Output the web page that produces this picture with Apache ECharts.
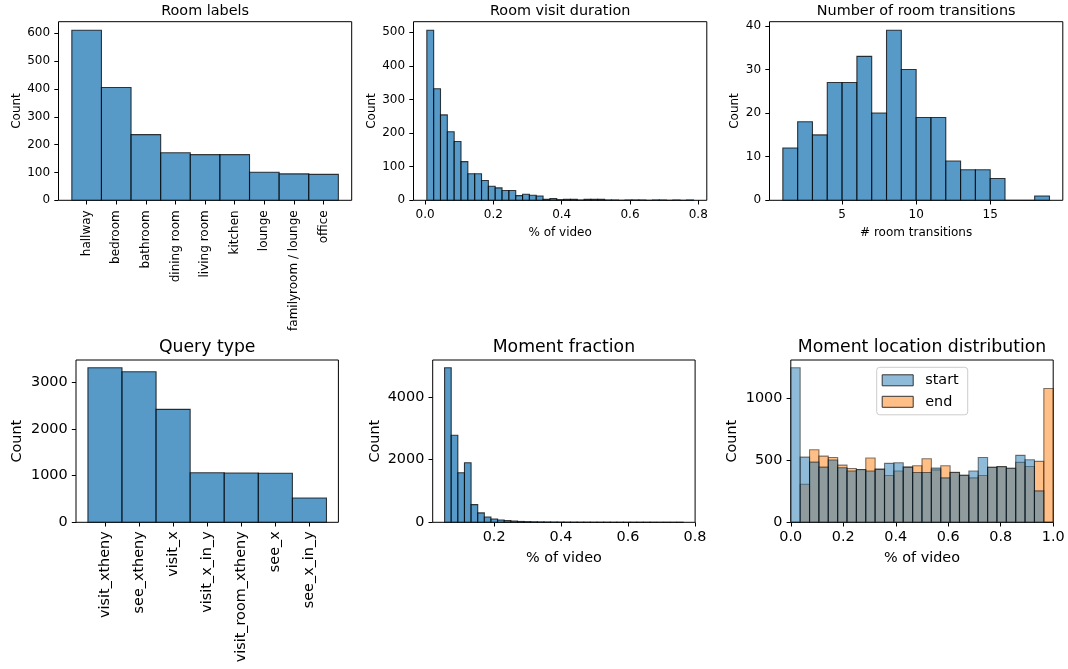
<!DOCTYPE html>
<html><head><meta charset="utf-8">
<script src="https://cdn.jsdelivr.net/npm/echarts@6/dist/echarts.min.js"></script>
<style>html,body{margin:0;padding:0;background:#fff}#c{width:1068px;height:669px}</style>
</head><body><div id="c"></div>
<script>
// ---------------- DATA ----------------
const roomLabels = ['hallway','bedroom','bathroom','dining room','living room','kitchen','lounge','familyroom / lounge','office'];
const roomCounts = [611,405,236,171,164,164,101,95,93];

const visitBinStart = 0.005;
const visitBinWidth = 0.02003;
const visitCounts = [506,332,254,204,175,115,79,79,59,42,37,29,29,14,18,15,13,3,5,2,3,3,1,3,3,3,1,1,0,1,1,1,0,1,1,0,1,0,1];

const transBinStart = 1;
const transBinWidth = 1;
const transCounts = [12,18,15,27,27,33,20,39,30,19,19,9,7,7,5,0,0,1];

const queryLabels = ['visit_xtheny','see_xtheny','visit_x','visit_x_in_y','visit_room_xtheny','see_x','see_x_in_y'];
const queryCounts = [3313,3227,2421,1063,1058,1050,521];

const fracBinStart = 0.052;
const fracBinWidth = 0.0198;
const fracCounts = [4928,2773,1579,1899,565,299,171,107,75,53,43,27,20,15,12,10,8,6,5,4,3,3,2,2,2,1,1,1,1,1,1,1,0,1,0,1];

const locBinStart = 0;
const locBinWidth = 1/28;
const locStart = [1249,527,486,446,503,441,414,427,414,430,476,481,446,403,403,438,359,402,381,414,524,446,449,437,541,505,254,0];
const locEnd   = [0,308,586,535,524,462,435,425,519,428,378,414,446,457,514,424,457,405,378,359,378,443,451,437,484,451,492,1081];

const ticks01 = [0,0.2,0.4,0.6,0.8];
const ticks0110 = [0,0.2,0.4,0.6,0.8,1.0];

// ---------------- HELPERS ----------------
const FONT = 'DejaVu Sans';
const FS_T = 12, FS_B = 14.4;
const TT_T = 14.4, TT_B = 17.28;

function histData(start, width, counts){ return counts.map((c,i)=>[start+i*width, start+(i+1)*width, c]); }
function catData(counts){ return counts.map((c,i)=>[i-0.5, i+0.5, c]); }

function renderer(style){
  return function(params, api){
    const a = api.coord([api.value(0), api.value(2)]);
    const b = api.coord([api.value(1), 0]);
    return {type:'rect', shape:{x:a[0], y:a[1], width:b[0]-a[0], height:b[1]-a[1]}, style:Object.assign({}, style)};
  };
}
const soloStyle = {fill:'#1f77b4', stroke:'#000', lineWidth:1.1, opacity:0.75};

function histSeries(idx, data, style, name){
  return {type:'custom', name:name||('s'+idx), coordinateSystem:'cartesian2d', xAxisIndex:idx, yAxisIndex:idx,
    renderItem:renderer(style), data:data, encode:{x:[0,1], y:2}, clip:false, silent:true,
    itemStyle:{color:style.fill}};
}

function xAx(gi, min, max, ticks, fmt, fs, name, gap, rotate, margin){
  return {type:'value', gridIndex:gi, min:min, max:max,
    axisLine:{show:false, onZero:false}, splitLine:{show:false},
    axisTick:{show:true, length:4.2, customValues:ticks, lineStyle:{color:'#000', width:1}},
    axisLabel:{customValues:ticks, formatter:fmt, fontSize:fs, color:'#000', fontFamily:FONT, margin:margin||8.4, rotate:rotate||0},
    name:name||'', nameLocation:'middle', nameGap:gap||0,
    nameTextStyle:{fontSize:fs, color:'#000', fontFamily:FONT}};
}
function yAx(gi, max, ticks, fs, gap){
  return {type:'value', gridIndex:gi, min:0, max:max,
    axisLine:{show:false, onZero:false}, splitLine:{show:false},
    axisTick:{show:true, length:4.2, customValues:ticks, lineStyle:{color:'#000', width:1}},
    axisLabel:{customValues:ticks, formatter:v=>String(Math.round(v)), fontSize:fs, color:'#000', fontFamily:FONT, margin:8.4},
    name:'Count', nameLocation:'middle', nameGap:gap, nameRotate:90,
    nameTextStyle:{fontSize:fs, color:'#000', fontFamily:FONT}};
}
function grid(l,t,w,h){
  return {left:l, top:t, width:w, height:h, show:true, borderColor:'#000', borderWidth:1,
    backgroundColor:'transparent', containLabel:false, outerBoundsMode:'none'};
}
function title(text, x, y, fs){
  return {text:text, left:x, top:y, textAlign:'center', textVerticalAlign:'middle', padding:0,
    textStyle:{fontSize:fs, fontWeight:'normal', color:'#000', fontFamily:FONT}};
}
const f1 = v => v.toFixed(1);
const fi = v => String(Math.round(v));

const G = [
  [58.5, 21.7, 293.2, 178.6],
  [413.5, 21.7, 293.3, 178.6],
  [769.5, 21.7, 293.3, 178.6],
  [76, 360, 262.4, 162.3],
  [432.7, 360, 262.4, 162.3],
  [790.8, 360, 262.4, 162.3]
];

const option = {
  animation:false,
  backgroundColor:'#fff',
  title:[
    title('Room labels', G[0][0]+G[0][2]/2, 10.8, TT_T),
    title('Room visit duration', G[1][0]+G[1][2]/2, 10.8, TT_T),
    title('Number of room transitions', G[2][0]+G[2][2]/2, 10.8, TT_T),
    title('Query type', G[3][0]+G[3][2]/2, 347.3, TT_B),
    title('Moment fraction', G[4][0]+G[4][2]/2, 347.3, TT_B),
    title('Moment location distribution', G[5][0]+G[5][2]/2, 347.3, TT_B)
  ],
  grid: G.map(g=>grid(g[0],g[1],g[2],g[3])),
  xAxis:[
    xAx(0, -0.95, 8.95, roomLabels.map((_,i)=>i), v=>roomLabels[Math.round(v)], FS_T, '', 0, 90, 10),
    xAx(1, -0.034, 0.825, ticks01, f1, FS_T, '% of video', 27),
    xAx(2, 0.1, 19.9, [5,10,15], fi, FS_T, '# room transitions', 27),
    xAx(3, -0.85, 6.85, queryLabels.map((_,i)=>i), v=>queryLabels[Math.round(v)], FS_B, '', 0, 90, 9),
    xAx(4, 0.0165, 0.8005, [0.2,0.4,0.6,0.8], f1, FS_B, '% of video', 28.8),
    xAx(5, 0, 1, ticks0110, f1, FS_B, '% of video', 28.8)
  ],
  yAxis:[
    yAx(0, 641.55, [0,100,200,300,400,500,600], FS_T, 36),
    yAx(1, 531.3, [0,100,200,300,400,500], FS_T, 36),
    yAx(2, 40.95, [0,10,20,30,40], FS_T, 28.3),
    yAx(3, 3478.65, [0,1000,2000,3000], FS_B, 52),
    yAx(4, 5174.4, [0,2000,4000], FS_B, 50.5),
    yAx(5, 1311.45, [0,500,1000], FS_B, 52)
  ],
  legend:{
    orient:'vertical', left:876.7, top:367.3, padding:[6,9,6,5],
    itemWidth:31, itemHeight:11, itemGap:7.5,
    borderColor:'#cccccc', borderWidth:1, borderRadius:3, backgroundColor:'rgba(255,255,255,0.8)',
    textStyle:{fontSize:FS_B, color:'#000', fontFamily:FONT, padding:[0,0,0,7]},
    selectedMode:false,
    data:[
      {name:'start', icon:'rect', itemStyle:{color:'#8fbbd9', borderColor:'#333', borderWidth:1}},
      {name:'end', icon:'rect', itemStyle:{color:'#ffbf86', borderColor:'#333', borderWidth:1}}
    ]
  },
  series:[
    histSeries(0, catData(roomCounts), soloStyle),
    histSeries(1, histData(visitBinStart, visitBinWidth, visitCounts), soloStyle),
    histSeries(2, histData(transBinStart, transBinWidth, transCounts), soloStyle),
    histSeries(3, catData(queryCounts), soloStyle),
    histSeries(4, histData(fracBinStart, fracBinWidth, fracCounts), soloStyle),
    histSeries(5, histData(locBinStart, locBinWidth, locEnd), {fill:'#ff7f0e', stroke:'#000', lineWidth:1.1, opacity:0.5}, 'end'),
    histSeries(5, histData(locBinStart, locBinWidth, locStart), {fill:'#1f77b4', stroke:'#000', lineWidth:1.1, opacity:0.5}, 'start')
  ]
};
const chart = echarts.init(document.getElementById('c'), null, {renderer:'canvas'});
chart.setOption(option);
</script>
</body></html>
